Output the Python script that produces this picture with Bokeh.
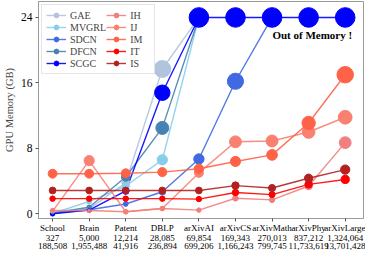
import math
from bokeh.plotting import figure
from bokeh.models import Range1d, Legend, LegendItem, FixedTicker, Label, LinearAxis
from bokeh.embed import file_html
from bokeh.resources import INLINE

# ---------------- data ----------------
datasets = ["School", "Brain", "Patent", "DBLP", "arXivAI", "arXivCS",
            "arXivMath", "arXivPhy", "arXivLarge"]
nodes = ["327", "5,000", "12,214", "28,085", "69,854", "169,343",
         "270,013", "837,212", "1,324,064"]
edges = ["188,508", "1,955,488", "41,916", "236,894", "699,206",
         "1,166,243", "799,745", "11,733,619", "13,701,428"]

oom_level = 24  # GPU limit (GB); None = out of memory

gae   = [0.15, 0.6, 3.8, 17.7, None, None, None, None, None]
mvgrl = [0.05, 1.5, 3.4, 6.6, None, None, None, None, None]
sdcn  = [0.05, 0.5, 1.2, 2.7, 6.7, 16.2, None, None, None]
dfcn  = [0.1, 0.8, 4.5, 10.5, None, None, None, None, None]
scgc  = [0.0, 0.45, 2.8, 14.8, None, None, None, None, None]
ih    = [0.4, 0.4, 0.25, 0.65, 0.45, 1.9, 1.7, 3.4, 8.7]
ij    = [0.3, 6.5, 0.25, 0.65, 5.0, 8.8, 8.9, 10.0, 11.8]
im    = [4.9, 4.9, 4.95, 5.1, 5.5, 6.4, 7.2, 11.1, 17.0]
it    = [1.85, 1.85, 1.85, 1.85, 1.8, 2.6, 2.35, 3.6, 4.2]
is_   = [2.85, 2.85, 2.85, 2.85, 2.85, 3.45, 3.15, 4.35, 5.4]

series_names = ["GAE", "MVGRL", "SDCN", "DFCN", "SCGC", "IH", "IJ", "IM", "IT", "IS"]
series_vals = [gae, mvgrl, sdcn, dfcn, scgc, ih, ij, im, it, is_]
series_colors = ["#b0c4de", "#87ceeb", "#4169e1", "#4682b4", "#0000ff",
                 "#f08080", "#fa8072", "#ff6347", "#ff0000", "#b22222"]

FONT = "Liberation Serif"

p = figure(width=365, height=251, output_backend="svg", toolbar_location=None,
           x_range=Range1d(-0.385, 8.5), y_range=Range1d(-0.574, 25.95),
           min_border_left=23, min_border_right=2, min_border_top=1,
           min_border_bottom=0)
p.background_fill_color = "white"
p.border_fill_color = "white"
p.outline_line_color = "#9a9a9a"
p.outline_line_width = 1
p.xgrid.visible = False
p.ygrid.visible = False

def msize(v):
    return 4.0 * math.sqrt(max(v, 0.0))

idx = list(range(len(datasets)))
line_rs = []
small_rs = []
for name, vals, col in zip(series_names, series_vals, series_colors):
    xs, ys = [], []
    for i, v in zip(idx, vals):
        if v is None:
            xs.append(i)
            ys.append(oom_level)
            if name != "SCGC":
                break
        else:
            xs.append(i)
            ys.append(v)
    lr = p.line(xs, ys, line_color=col, line_width=1.4, line_alpha=0.9)
    sr = p.scatter(xs, ys, size=4.5, fill_color=col, line_color=col, marker="circle")
    line_rs.append(lr)
    small_rs.append(sr)

# big markers sized by memory
for name, vals, col in zip(series_names, series_vals, series_colors):
    bx = [i for i, v in zip(idx, vals) if v is not None]
    by = [v for v in vals if v is not None]
    bs = [msize(v) for v in by]
    p.scatter(bx, by, size=bs, fill_color=col, line_color=col, marker="circle")

# out-of-memory markers
oom_x = [i for i in idx if scgc[i] is None]
oom_y = [oom_level for _ in oom_x]
p.scatter(oom_x, oom_y, size=msize(oom_level), fill_color="#0000ff",
          line_color="#0000ff", marker="circle")

p.add_layout(Label(x=6.01, y=21.8, text="Out of Memory !", text_font=FONT,
                   text_font_size="11px", text_font_style="bold",
                   text_baseline="middle", text_align="left", text_color="black"))

# y axis
p.yaxis.ticker = FixedTicker(ticks=[0, 8, 16, 24])
p.yaxis.axis_label = "GPU Memory (GB)"
p.yaxis.axis_label_text_font = FONT
p.yaxis.axis_label_text_font_style = "normal"
p.yaxis.axis_label_text_font_size = "10.5px"
p.yaxis.axis_label_standoff = 3
p.yaxis.major_label_text_font = FONT
p.yaxis.major_label_text_font_size = "11.5px"
p.yaxis.major_label_standoff = 3

# x axes: dataset name, #nodes, #edges as three stacked rows
p.xaxis.ticker = FixedTicker(ticks=idx)
p.xaxis.major_label_overrides = {i: d for i, d in zip(idx, datasets)}
p.xaxis.major_label_standoff = 1

ax_nodes = LinearAxis(ticker=FixedTicker(ticks=idx),
                      major_label_overrides={i: n for i, n in zip(idx, nodes)})
ax_edges = LinearAxis(ticker=FixedTicker(ticks=idx),
                      major_label_overrides={i: e for i, e in zip(idx, edges)})
for ax in (ax_nodes, ax_edges):
    ax.axis_line_color = None
    ax.major_tick_line_color = None
    ax.major_tick_out = 0
    ax.major_tick_in = 0
    ax.minor_tick_line_color = None
    ax.major_label_standoff = -1
    p.add_layout(ax, "below")

for ax in (p.xaxis[0], ax_nodes, ax_edges):
    ax.major_label_text_font = FONT
    ax.major_label_text_font_size = "9px"
    ax.major_label_text_color = "black"

for ax in (p.xaxis[0], p.yaxis[0]):
    ax.axis_line_color = "#9a9a9a"
    ax.major_tick_line_color = "#555555"
    ax.major_tick_out = 3
    ax.major_tick_in = 0
    ax.minor_tick_line_color = None
    ax.major_label_text_color = "black"

items = [LegendItem(label=n, renderers=[lr, sr]) for n, lr, sr in zip(series_names, line_rs, small_rs)]
legend = Legend(items=items, location="top_left", ncols=2, nrows=5,
                label_text_font=FONT, label_text_font_size="10px",
                glyph_width=20, glyph_height=12, label_height=12,
                spacing=0, padding=4, margin=3, label_standoff=4,
                border_line_color="#cccccc", background_fill_color="white",
                background_fill_alpha=1.0)
p.add_layout(legend)

open("out.html", "w").write(file_html(p, INLINE))
